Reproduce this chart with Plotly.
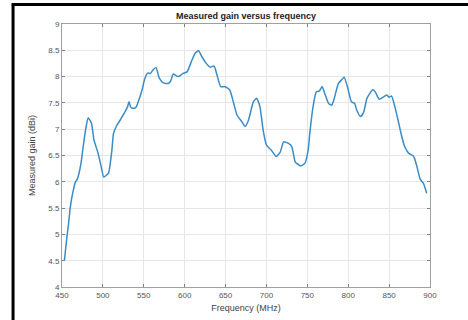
import plotly.graph_objects as go

freq = [453, 456, 458, 460, 462, 464, 466, 469, 473, 476, 479, 482, 486, 489, 492, 494, 498,
        501, 504, 507, 511, 513, 517, 521, 524, 527, 530, 532, 534, 536, 539, 541, 545, 548,
        551, 555, 558, 562, 565, 569, 574, 580, 583, 586, 592, 598, 603, 608, 613, 617, 621,
        625, 631, 636, 639, 644, 649, 655, 660, 664, 670, 674, 678, 684, 688, 692, 696, 700,
        706, 712, 717, 721, 727, 731, 735, 737, 742, 747, 751, 753, 757, 761, 765, 768, 772,
        776, 780, 783, 788, 792, 795, 799, 804, 808, 810, 815, 819, 823, 830, 833, 838, 843,
        847, 850, 853, 857, 861, 865, 869, 874, 879, 881, 884, 888, 892, 896]
gain = [4.51, 4.95, 5.2, 5.5, 5.7, 5.85, 5.98, 6.06, 6.33, 6.68, 7.0, 7.22, 7.12, 6.8, 6.65, 6.55, 6.28,
        6.09, 6.12, 6.17, 6.6, 6.92, 7.07, 7.17, 7.25, 7.33, 7.42, 7.52, 7.42, 7.40, 7.40, 7.43, 7.6, 7.75,
        7.95, 8.07, 8.06, 8.14, 8.17, 7.97, 7.88, 7.87, 7.92, 8.05, 8.0, 8.06, 8.09, 8.28, 8.45, 8.49, 8.38,
        8.28, 8.18, 8.2, 8.06, 7.81, 7.81, 7.75, 7.49, 7.27, 7.14, 7.05, 7.17, 7.52, 7.59, 7.43, 6.98, 6.70,
        6.6, 6.48, 6.57, 6.76, 6.73, 6.67, 6.38, 6.35, 6.30, 6.35, 6.6, 6.92, 7.43, 7.71, 7.73, 7.81, 7.65,
        7.49, 7.46, 7.59, 7.87, 7.94, 7.99, 7.81, 7.52, 7.49, 7.38, 7.24, 7.33, 7.59, 7.75, 7.71, 7.57, 7.61,
        7.65, 7.61, 7.63, 7.43, 7.17, 6.89, 6.67, 6.54, 6.50, 6.45, 6.29, 6.05, 5.97, 5.78]

x_ticks = [450, 500, 550, 600, 650, 700, 750, 800, 850, 900]
y_ticks = [4, 4.5, 5, 5.5, 6, 6.5, 7, 7.5, 8, 8.5, 9]
y_tick_text = ["4", "4.5", "5", "5.5", "6", "6.5", "7", "7.5", "8", "8.5", "9"]

fig = go.Figure()
fig.add_trace(go.Scatter(x=freq, y=gain, mode="lines",
                         line=dict(color="#3a8cc6", width=1.5, shape="spline", smoothing=0.5),
                         showlegend=False))

axis_common = dict(showgrid=True, gridcolor="#e6e6e6", gridwidth=1,
                   showline=True, linecolor="#a0a0a0", linewidth=1, mirror="allticks",
                   ticks="inside", ticklen=3, tickcolor="#808080", zeroline=False,
                   tickfont=dict(family="Liberation Sans, Arial", size=8, color="#555555"))

fig.update_layout(
    width=468, height=320,
    margin=dict(l=62, r=38, t=24, b=33, autoexpand=False),
    paper_bgcolor="white", plot_bgcolor="white",
    title=dict(text="<b>Measured gain versus frequency</b>", x=246/468, xanchor="center",
               y=1 - 16/320, yanchor="middle", yref="container",
               font=dict(family="Liberation Sans, Arial", size=9, color="#222222")),
    xaxis=dict(range=[450, 900], tickvals=x_ticks, **axis_common,
               title=dict(text="Frequency (MHz)", standoff=6,
                          font=dict(family="Liberation Sans, Arial", size=9, color="#444444"))),
    yaxis=dict(range=[4, 9], tickvals=y_ticks, ticktext=y_tick_text, **axis_common,
               title=dict(text="Measured gain (dBi)", standoff=11,
                          font=dict(family="Liberation Sans, Arial", size=9, color="#444444"))),
    shapes=[
        dict(type="line", xref="paper", yref="paper", x0=-0.133, x1=-0.133, y0=-0.3, y1=1.074,
             line=dict(color="black", width=3)),
        dict(type="line", xref="paper", yref="paper", x0=-0.137, x1=1.2, y0=1.074, y1=1.074,
             line=dict(color="black", width=3)),
    ],
)

fig.write_html("out.html")
